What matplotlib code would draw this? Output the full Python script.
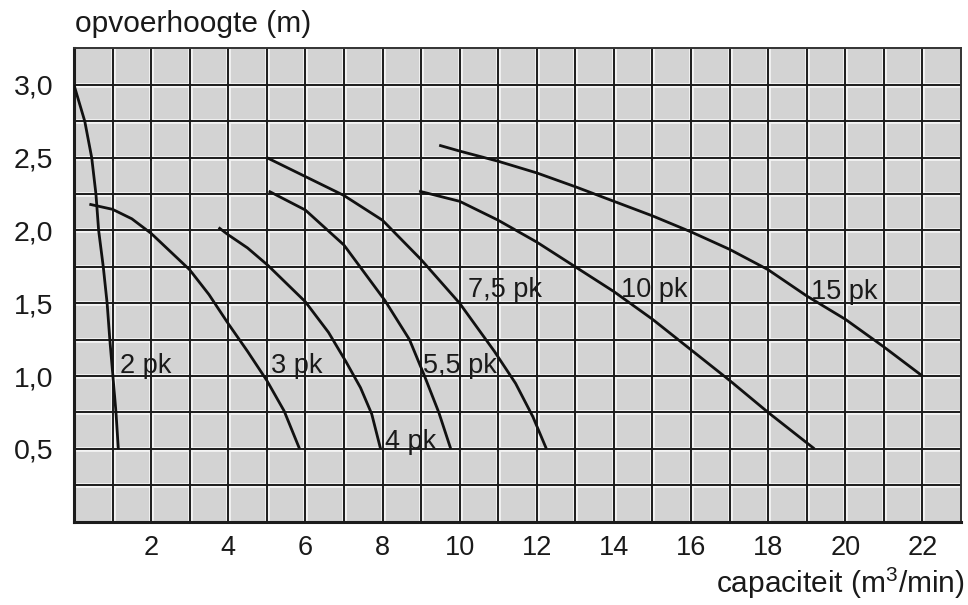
import matplotlib.pyplot as plt
import numpy as np

plt.rcParams['font.family'] = ['Liberation Sans', 'DejaVu Sans']
plt.rcParams['mathtext.fontset'] = 'custom'
plt.rcParams['mathtext.rm'] = 'Liberation Sans'
plt.rcParams['mathtext.default'] = 'regular'

# pump curves: capacity (m3/min) vs head (m)
q_2pk = [0, 0.28, 0.46, 0.57, 0.64, 0.76, 0.86, 0.93, 1.01, 1.09, 1.15]
h_2pk = [3.0, 2.75, 2.5, 2.25, 2.0, 1.75, 1.5, 1.25, 1.0, 0.75, 0.5]

q_3pk = [0.4, 1.0, 1.5, 2.0, 3.0, 3.5, 4.0, 4.5, 5.0, 5.45, 5.85]
h_3pk = [2.18, 2.145, 2.08, 1.98, 1.73, 1.56, 1.36, 1.17, 0.97, 0.76, 0.5]

q_4pk = [3.75, 4.0, 4.5, 5.03, 6.0, 6.6, 7.05, 7.43, 7.72, 7.95]
h_4pk = [2.02, 1.97, 1.88, 1.76, 1.51, 1.3, 1.1, 0.92, 0.74, 0.5]

q_55pk = [5.05, 6.0, 7.0, 8.06, 8.7, 9.09, 9.46, 9.77]
h_55pk = [2.27, 2.14, 1.9, 1.52, 1.25, 1.0, 0.75, 0.5]

q_75pk = [5.0, 6.0, 7.0, 8.0, 9.0, 10.0, 10.9, 11.45, 11.9, 12.25]
h_75pk = [2.5, 2.37, 2.24, 2.07, 1.8, 1.5, 1.17, 0.95, 0.72, 0.5]

q_10pk = [8.95, 10, 11, 12, 13, 14, 15, 16, 17, 18, 19.2]
h_10pk = [2.27, 2.2, 2.07, 1.92, 1.75, 1.58, 1.39, 1.18, 0.97, 0.75, 0.5]

q_15pk = [9.47, 10, 11, 12, 13, 14, 15, 16, 17, 18, 19, 20, 21, 22]
h_15pk = [2.585, 2.545, 2.475, 2.395, 2.3, 2.2, 2.1, 1.99, 1.87, 1.73, 1.55, 1.39, 1.2, 1.0]

labels = ['2 pk', '3 pk', '4 pk', '5,5 pk', '7,5 pk', '10 pk', '15 pk']
x_ticks = [2, 4, 6, 8, 10, 12, 14, 16, 18, 20, 22]
y_ticks = [0.5, 1.0, 1.5, 2.0, 2.5, 3.0]

curves = [(q_2pk, h_2pk), (q_3pk, h_3pk), (q_4pk, h_4pk), (q_55pk, h_55pk),
          (q_75pk, h_75pk), (q_10pk, h_10pk), (q_15pk, h_15pk)]
label_xy = [(1.2, 1.02), (5.12, 1.02), (8.06, 0.5), (9.05, 1.02),
            (10.21, 1.54), (14.19, 1.54), (19.11, 1.53)]

fig = plt.figure(figsize=(9.68, 6.05), dpi=100)
ax = fig.add_axes([0.0764, 0.1377, 0.9164, 0.7823])
ax.set_facecolor('#d3d3d3')
ax.set_xlim(0, 23)
ax.set_ylim(0, 3.25)

# grid paper
for x in range(1, 23):
    ax.axvline(x, color='#f4f4f4', lw=3.4, zorder=1)
    ax.axvline(x, color='#1c1c1c', lw=1.4, zorder=1.5)
for y in np.arange(0.25, 3.25, 0.25):
    ax.axhline(y, color='#f4f4f4', lw=3.4, zorder=1)
    ax.axhline(y, color='#1c1c1c', lw=1.4, zorder=1.5)

for (q, h), lab, (tx, ty) in zip(curves, labels, label_xy):
    ax.plot(q, h, color='#111111', lw=2.0, zorder=3,
            solid_capstyle='butt', solid_joinstyle='round')
    ax.text(tx, ty, lab, fontsize=19.5, color='#1a1a1a', ha='left', va='baseline', zorder=4)

for side in ['top', 'right']:
    ax.spines[side].set_linewidth(1.4)
    ax.spines[side].set_color('#333333')
for side in ['left', 'bottom']:
    ax.spines[side].set_linewidth(2.2)
    ax.spines[side].set_color('#1c1c1c')

ax.set_xticks(x_ticks)
ax.set_xticklabels([str(v) for v in x_ticks])
ax.set_yticks(y_ticks)
ax.set_yticklabels([f'{v:.1f}'.replace('.', ',') for v in y_ticks])
ax.tick_params(axis='x', length=0, pad=9.5, labelsize=19.5, labelcolor='#1a1a1a')
ax.tick_params(axis='y', length=0, pad=15, labelsize=20.5, labelcolor='#1a1a1a')

fig.text(0.0775, 1 - 32 / 605, 'opvoerhoogte (m)', fontsize=21.5,
         ha='left', va='baseline', color='#1a1a1a')
fig.text(965 / 968, 1 - 593 / 605, 'capaciteit (m$^{3}$/min)', fontsize=21.5,
         ha='right', va='baseline', color='#1a1a1a')

plt.savefig('out.png', dpi=100)
